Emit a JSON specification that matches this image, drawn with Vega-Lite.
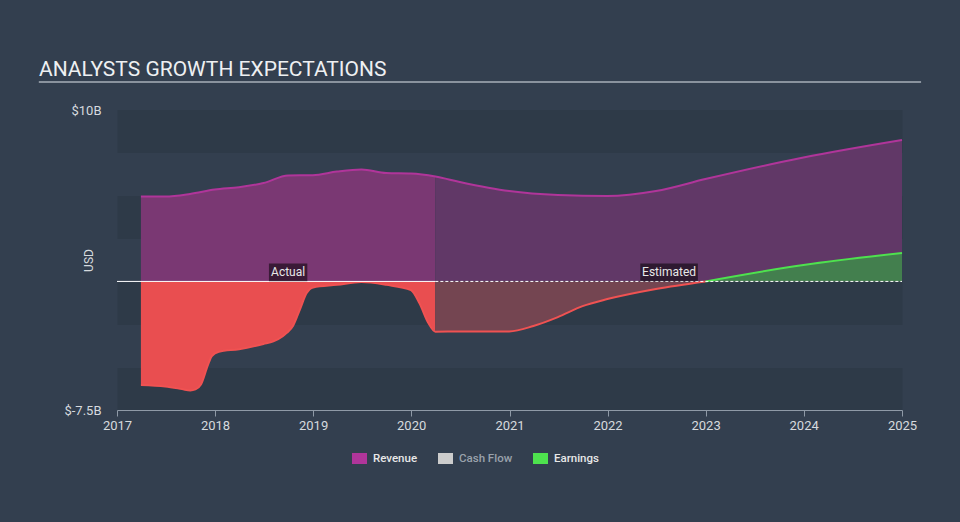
{
  "$schema": "https://vega.github.io/schema/vega-lite/v6.json",
  "width": 785,
  "height": 300,
  "autosize": "none",
  "padding": {"left": 117, "top": 110, "right": 58, "bottom": 112},
  "background": "#333f4f",
  "config": {"view": {"stroke": null}, "font": "Roboto"},
  "title": {
    "text": "ANALYSTS GROWTH EXPECTATIONS",
    "anchor": "start",
    "frame": "group",
    "dx": -78,
    "dy": 21,
    "offset": 5,
    "baseline": "alphabetic",
    "fontSize": 21,
    "font": "Roboto",
    "fontWeight": 400,
    "color": "#eef0f2"
  },
  "datasets": {
    "series": [
      {"date": "2017-03-31", "series": "Revenue", "value": 4.95},
      {"date": "2017-06-30", "series": "Revenue", "value": 4.95},
      {"date": "2017-09-30", "series": "Revenue", "value": 5.1},
      {"date": "2017-12-31", "series": "Revenue", "value": 5.36},
      {"date": "2018-03-31", "series": "Revenue", "value": 5.5},
      {"date": "2018-06-30", "series": "Revenue", "value": 5.74},
      {"date": "2018-09-30", "series": "Revenue", "value": 6.18},
      {"date": "2018-12-31", "series": "Revenue", "value": 6.2},
      {"date": "2019-03-31", "series": "Revenue", "value": 6.41},
      {"date": "2019-06-30", "series": "Revenue", "value": 6.53},
      {"date": "2019-09-30", "series": "Revenue", "value": 6.32},
      {"date": "2019-12-31", "series": "Revenue", "value": 6.29},
      {"date": "2020-03-31", "series": "Revenue", "value": 6.12},
      {"date": "2020-06-30", "series": "Revenue", "value": 5.8},
      {"date": "2020-12-31", "series": "Revenue", "value": 5.27},
      {"date": "2021-06-30", "series": "Revenue", "value": 5.04},
      {"date": "2021-12-31", "series": "Revenue", "value": 4.98},
      {"date": "2022-06-30", "series": "Revenue", "value": 5.27},
      {"date": "2022-12-31", "series": "Revenue", "value": 5.97},
      {"date": "2023-12-31", "series": "Revenue", "value": 7.23},
      {"date": "2025-01-01", "series": "Revenue", "value": 8.25},
      {"date": "2017-03-31", "series": "Earnings", "value": -6.04},
      {"date": "2017-06-30", "series": "Earnings", "value": -6.13},
      {"date": "2017-08-31", "series": "Earnings", "value": -6.28},
      {"date": "2017-10-01", "series": "Earnings", "value": -6.36},
      {"date": "2017-10-20", "series": "Earnings", "value": -6.3},
      {"date": "2017-11-10", "series": "Earnings", "value": -6.0},
      {"date": "2017-12-05", "series": "Earnings", "value": -4.9},
      {"date": "2017-12-20", "series": "Earnings", "value": -4.35},
      {"date": "2018-01-15", "series": "Earnings", "value": -4.1},
      {"date": "2018-03-31", "series": "Earnings", "value": -3.95},
      {"date": "2018-06-30", "series": "Earnings", "value": -3.65},
      {"date": "2018-08-06", "series": "Earnings", "value": -3.5},
      {"date": "2018-09-10", "series": "Earnings", "value": -3.2},
      {"date": "2018-09-25", "series": "Earnings", "value": -3.0},
      {"date": "2018-10-18", "series": "Earnings", "value": -2.6},
      {"date": "2018-11-12", "series": "Earnings", "value": -1.67},
      {"date": "2018-12-08", "series": "Earnings", "value": -0.68},
      {"date": "2019-01-01", "series": "Earnings", "value": -0.35},
      {"date": "2019-03-31", "series": "Earnings", "value": -0.2},
      {"date": "2019-06-30", "series": "Earnings", "value": -0.04},
      {"date": "2019-09-30", "series": "Earnings", "value": -0.2},
      {"date": "2019-12-31", "series": "Earnings", "value": -0.5},
      {"date": "2020-02-01", "series": "Earnings", "value": -1.28},
      {"date": "2020-03-05", "series": "Earnings", "value": -2.43},
      {"date": "2020-03-31", "series": "Earnings", "value": -2.93},
      {"date": "2020-06-30", "series": "Earnings", "value": -2.92},
      {"date": "2020-12-31", "series": "Earnings", "value": -2.92},
      {"date": "2021-03-31", "series": "Earnings", "value": -2.6},
      {"date": "2021-06-30", "series": "Earnings", "value": -2.08},
      {"date": "2021-09-30", "series": "Earnings", "value": -1.44},
      {"date": "2021-12-31", "series": "Earnings", "value": -1.03},
      {"date": "2022-06-30", "series": "Earnings", "value": -0.44},
      {"date": "2023-01-01", "series": "Earnings", "value": 0},
      {"date": "2023-12-31", "series": "Earnings", "value": 0.96},
      {"date": "2025-01-01", "series": "Earnings", "value": 1.66}
    ],
    "labels": [
      {"label": "Actual", "date": "2018-09-30"},
      {"label": "Estimated", "date": "2022-08-18"}
    ]
  },
  "layer": [
    {
      "data": {"name": "series"},
      "transform": [{"filter": "datum.series == 'Revenue' && time(datum.date) <= time('2020-03-31')"}],
      "mark": {"type": "area", "interpolate": "monotone", "color": "#7a3873"},
      "encoding": {
        "x": {
          "field": "date",
          "type": "temporal",
          "scale": {"domain": [{"year": 2017, "month": 1, "date": 1}, {"year": 2025, "month": 1, "date": 1}], "nice": false},
          "axis": {
            "title": null,
            "values": [
              {"year": 2017, "month": 1, "date": 1},
              {"year": 2018, "month": 1, "date": 1},
              {"year": 2019, "month": 1, "date": 1},
              {"year": 2020, "month": 1, "date": 1},
              {"year": 2021, "month": 1, "date": 1},
              {"year": 2022, "month": 1, "date": 1},
              {"year": 2023, "month": 1, "date": 1},
              {"year": 2024, "month": 1, "date": 1},
              {"year": 2025, "month": 1, "date": 1}
            ],
            "format": "%Y",
            "labelFlush": false,
            "labelOverlap": false,
            "grid": false,
            "domainColor": "#8f9aa7",
            "tickColor": "#8f9aa7",
            "tickSize": 6,
            "labelColor": "#d6dade",
            "labelFontSize": 13,
            "labelPadding": 3
          }
        },
        "y": {
          "field": "value",
          "type": "quantitative",
          "scale": {"domain": [-7.5, 10], "nice": false, "zero": false},
          "axis": {
            "title": "USD",
            "values": [-7.5, -6.25, -1.25, 3.75, 8.75, 10],
            "labelExpr": "datum.value == 10 || datum.value == -7.5 ? '$' + datum.value + 'B' : ''",
            "labelOverlap": false,
            "domain": false,
            "ticks": false,
            "grid": true,
            "gridColor": "#2e3a48",
            "gridWidth": {"condition": {"test": "datum.value == 10 || datum.value == -7.5", "value": 0}, "value": 42.86},
            "gridOpacity": {"condition": {"test": "datum.value == 10 || datum.value == -7.5", "value": 0}, "value": 1},
            "labelColor": "#d6dade",
            "labelFontSize": 13,
            "labelPadding": 16,
            "titleColor": "#d6dade",
            "titleFontSize": 12,
            "titleFontWeight": "normal",
            "titleX": -29,
            "titleY": 150,
            "titleAngle": -90,
            "titleAlign": "center",
            "titleBaseline": "middle"
          }
        },
        "y2": {"datum": 0}
      }
    },
    {
      "data": {"name": "series"},
      "transform": [{"filter": "datum.series == 'Revenue' && time(datum.date) >= time('2020-03-31')"}],
      "mark": {"type": "area", "interpolate": "monotone", "color": "#613867"},
      "encoding": {
        "x": {"field": "date", "type": "temporal"},
        "y": {"field": "value", "type": "quantitative"},
        "y2": {"datum": 0}
      }
    },
    {
      "data": {"name": "series"},
      "transform": [{"filter": "datum.series == 'Earnings' && datum.value <= 0 && time(datum.date) <= time('2020-03-31')"}],
      "mark": {"type": "area", "interpolate": "monotone", "color": "#e94e50"},
      "encoding": {
        "x": {"field": "date", "type": "temporal"},
        "y": {"field": "value", "type": "quantitative"},
        "y2": {"datum": 0}
      }
    },
    {
      "data": {"name": "series"},
      "transform": [{"filter": "datum.series == 'Earnings' && datum.value <= 0 && time(datum.date) >= time('2020-03-31')"}],
      "mark": {"type": "area", "interpolate": "monotone", "color": "#744551"},
      "encoding": {
        "x": {"field": "date", "type": "temporal"},
        "y": {"field": "value", "type": "quantitative"},
        "y2": {"datum": 0}
      }
    },
    {
      "data": {"name": "series"},
      "transform": [{"filter": "datum.series == 'Earnings' && datum.value >= 0"}],
      "mark": {"type": "area", "interpolate": "monotone", "color": "#437f4e"},
      "encoding": {
        "x": {"field": "date", "type": "temporal"},
        "y": {"field": "value", "type": "quantitative"},
        "y2": {"datum": 0}
      }
    },
    {
      "data": {"name": "series"},
      "transform": [{"filter": "datum.series == 'Earnings' && datum.value <= 0"}],
      "mark": {"type": "line", "interpolate": "monotone", "color": "#f05252", "strokeWidth": 2},
      "encoding": {
        "x": {"field": "date", "type": "temporal"},
        "y": {"field": "value", "type": "quantitative"}
      }
    },
    {
      "data": {"name": "series"},
      "transform": [{"filter": "datum.series == 'Revenue' || (datum.series == 'Earnings' && datum.value >= 0)"}],
      "mark": {"type": "line", "interpolate": "monotone", "strokeWidth": 2},
      "encoding": {
        "x": {"field": "date", "type": "temporal"},
        "y": {"field": "value", "type": "quantitative"},
        "color": {
          "field": "series",
          "type": "nominal",
          "scale": {"domain": ["Revenue", "Cash Flow", "Earnings"], "range": ["#b0359a", "#cccccc", "#4ee24e"]},
          "legend": {
            "title": null,
            "orient": "none",
            "legendX": 235,
            "legendY": 341,
            "direction": "horizontal",
            "padding": 0,
            "symbolType": "M-1,-0.73H1V0.73H-1Z",
            "symbolSize": 225,
            "symbolStrokeWidth": 0,
            "symbolOpacity": 1,
            "labelFont": "Roboto",
            "labelFontSize": 11.5,
            "labelFontWeight": 500,
            "labelColor": "#e8e8e8",
            "labelOffset": 6,
            "columnPadding": 20,
            "encode": {
              "symbols": {"update": {"fill": {"scale": "color", "field": "value"}, "strokeWidth": {"value": 0}, "opacity": {"value": 1}}},
              "labels": {"update": {"fill": {"signal": "datum.label == 'Cash Flow' ? '#9aa2ac' : '#e8e8e8'"}}}
            }
          }
        }
      }
    },
    {
      "data": {"values": [{}]},
      "mark": {"type": "rule", "color": "#ffffff", "strokeWidth": 1},
      "encoding": {
        "x": {"datum": {"year": 2017, "month": 1, "date": 1}, "type": "temporal"},
        "x2": {"datum": {"year": 2020, "month": 3, "date": 31}},
        "y": {"datum": 0, "type": "quantitative"}
      }
    },
    {
      "data": {"values": [{}]},
      "mark": {"type": "rule", "color": "#ffffff", "strokeWidth": 1, "strokeDash": [3, 2]},
      "encoding": {
        "x": {"datum": {"year": 2020, "month": 3, "date": 31}, "type": "temporal"},
        "x2": {"datum": {"year": 2025, "month": 1, "date": 1}},
        "y": {"datum": 0, "type": "quantitative"}
      }
    },
    {
      "data": {"name": "labels"},
      "mark": {"type": "point", "filled": true, "color": "#000000", "opacity": 0.52, "strokeWidth": 0, "yOffset": -9},
      "encoding": {
        "x": {"field": "date", "type": "temporal"},
        "y": {"datum": 0, "type": "quantitative"},
        "shape": {"condition": {"test": "datum.label == 'Actual'", "value": "M-1,-0.46H1V0.46H-1Z"}, "value": "M-1,-0.307H1V0.307H-1Z"},
        "size": {"condition": {"test": "datum.label == 'Actual'", "value": 1475}, "value": 3318}
      }
    },
    {
      "data": {"name": "labels"},
      "mark": {"type": "text", "color": "#e8e8e8", "fontSize": 12, "font": "Roboto", "align": "center", "baseline": "middle", "yOffset": -9},
      "encoding": {
        "x": {"field": "date", "type": "temporal"},
        "y": {"datum": 0, "type": "quantitative"},
        "text": {"field": "label"}
      }
    },
    {
      "data": {"values": [{}]},
      "mark": {"type": "rule", "color": "#a9b0b9", "strokeWidth": 1.5},
      "encoding": {
        "x": {"datum": {"year": 2016, "month": 3, "date": 16}, "type": "temporal"},
        "x2": {"datum": {"year": 2025, "month": 3, "date": 13}},
        "y": {"datum": 11.63, "type": "quantitative"}
      }
    }
  ]
}
